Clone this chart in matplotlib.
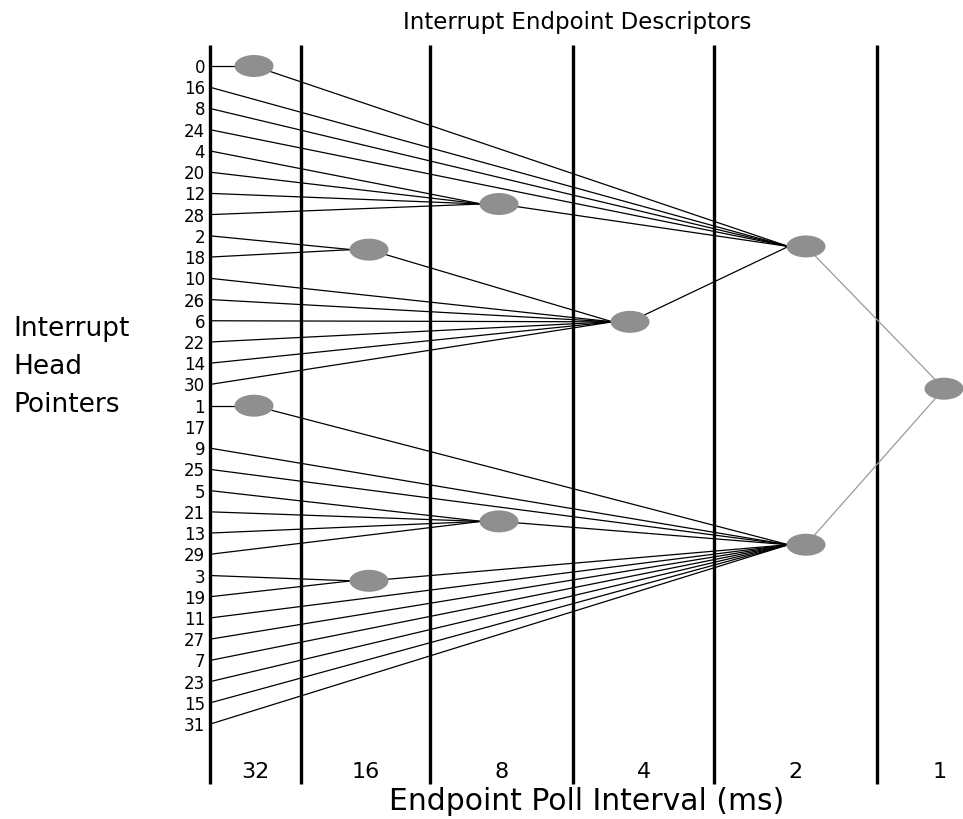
import matplotlib.pyplot as plt
from matplotlib.patches import Ellipse

# head pointer order, top to bottom
rows = [0, 16, 8, 24, 4, 20, 12, 28, 2, 18, 10, 26, 6, 22, 14, 30,
        1, 17, 9, 25, 5, 21, 13, 29, 3, 19, 11, 27, 7, 23, 15, 31]

# poll interval columns (ms)
intervals = [32, 16, 8, 4, 2, 1]

# endpoint descriptors: column interval and vertical slot (in row units)
node_names = ["e32a", "e32b", "e16a", "e16b", "e8a", "e8b", "e4", "e2a", "e2b", "e1"]
node_interval = [32, 32, 16, 16, 8, 8, 4, 2, 2, 1]
node_slot = [0, 16, 8.65, 24.25, 6.5, 21.45, 12.05, 8.5, 22.55, 15.2]

# links: head pointer number -> descriptor
head_links = {
    0: "e32a", 16: "e2a", 8: "e2a", 24: "e2a",
    4: "e8a", 20: "e8a", 12: "e8a", 28: "e8a",
    2: "e16a", 18: "e16a",
    10: "e4", 26: "e4", 6: "e4", 22: "e4", 14: "e4", 30: "e4",
    1: "e32b", 9: "e2b", 25: "e2b",
    5: "e8b", 21: "e8b", 13: "e8b", 29: "e8b",
    3: "e16b", 19: "e16b",
    11: "e2b", 27: "e2b", 7: "e2b", 23: "e2b", 15: "e2b", 31: "e2b",
}
# links: descriptor -> descriptor
node_links = [("e32a", "e2a"), ("e8a", "e2a"), ("e16a", "e4"), ("e4", "e2a"),
              ("e32b", "e2b"), ("e8b", "e2b"), ("e16b", "e2b"),
              ("e2a", "e1"), ("e2b", "e1")]

# layout (pixels)
W, H = 963, 820
Y0, DY = 67, 21.23
X_HEAD = 210
col_edges = [210, 301, 430, 573, 714, 877, 1003]
node_x_in_col = {32: 254, 16: 369, 8: 499, 4: 630, 2: 806, 1: 944}
EW, EH = 39, 22

fig = plt.figure(figsize=(W / 100, H / 100), dpi=100)
ax = fig.add_axes([0, 0, 1, 1])
ax.set_xlim(0, W)
ax.set_ylim(H, 0)
ax.axis("off")

def row_y(slot):
    return Y0 + DY * slot

pos = {}
for name, iv, s in zip(node_names, node_interval, node_slot):
    pos[name] = (node_x_in_col[iv], row_y(s))

# column separators
for x in col_edges[:-1]:
    ax.plot([x, x], [46, 785], color="black", lw=2.4, solid_capstyle="butt", zorder=1)

# head pointer lines into descriptors
for i, r in enumerate(rows):
    y = row_y(i)
    ax.text(205, y + 6, str(r), ha="right", va="baseline", fontsize=12)
    if r in head_links:
        tx, ty = pos[head_links[r]]
        ax.plot([X_HEAD, tx - EW * 0.45], [y, ty], color="black", lw=0.9, zorder=2)

for a, b in node_links:
    ax_, ay = pos[a]
    bx, by = pos[b]
    if b == "e1":
        ax.plot([ax_, bx], [ay, by], color="#9a9a9a", lw=0.9, zorder=2)
    else:
        ax.plot([ax_, bx - EW * 0.45], [ay, by], color="black", lw=0.9, zorder=2)

for name in node_names:
    ax.add_patch(Ellipse(pos[name], EW, EH, facecolor="#8f8f8f", edgecolor="none", zorder=3))

# interval labels under the columns
for i, iv in enumerate(intervals):
    cx = (col_edges[i] + col_edges[i + 1]) / 2
    ax.text(cx, 778, str(iv), ha="center", va="baseline", fontsize=16)

ax.text(577, 29, "Interrupt Endpoint Descriptors", ha="center", va="baseline", fontsize=16.5)
ax.text(587, 810, "Endpoint Poll Interval (ms)", ha="center", va="baseline", fontsize=21.5)
for txt, yb in zip(["Interrupt", "Head", "Pointers"], [336, 374, 412]):
    ax.text(13, yb, txt, ha="left", va="baseline", fontsize=19)

plt.savefig("out.png", dpi=100)
